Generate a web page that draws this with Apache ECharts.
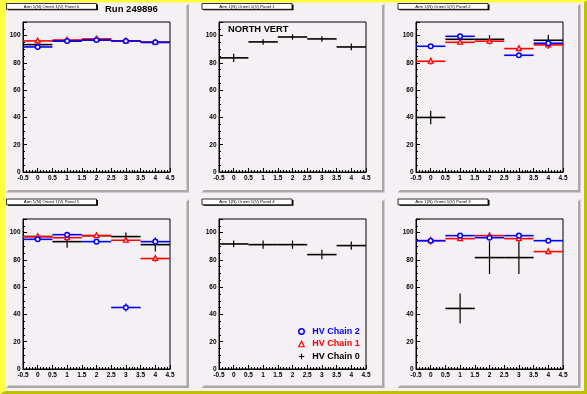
<!DOCTYPE html>
<html><head><meta charset="utf-8">
<script src="https://cdn.jsdelivr.net/npm/echarts@6/dist/echarts.min.js"></script>
<style>html,body{margin:0;padding:0;background:#f4f0f4}#c{width:587px;height:394px}</style>
</head><body><div id="c"></div><script>
// ---------- data ----------
const bins = [0, 1, 2, 3, 4];
const chainNames = ['HV Chain 0', 'HV Chain 1', 'HV Chain 2'];
const panelTitles = [
  'Arm 1(N) Orient 1(V) Panel 0', 'Arm 1(N) Orient 1(V) Panel 1', 'Arm 1(N) Orient 1(V) Panel 2',
  'Arm 1(N) Orient 1(V) Panel 5', 'Arm 1(N) Orient 1(V) Panel 4', 'Arm 1(N) Orient 1(V) Panel 3'
];
const runLabel = 'Run 249896';
const armLabel = 'NORTH VERT';
const yTickLabels = [0, 20, 40, 60, 80, 100];
const xTickLabels = [-0.5, 0, 0.5, 1, 1.5, 2, 2.5, 3, 3.5, 4, 4.5];

// pad 0 (Panel 0)
const p0_chain0 = [93.4, 96.1, 96.8, 96.1, 95.1];
const p0_chain0_err = [1.5, 1, 1, 1, 1];
const p0_chain1 = [96.1, 96.8, 97.6, 96.1, 95.1];
const p0_chain1_err = [1.5, 1, 1.5, 1, 1];
const p0_chain2 = [91.7, 96.1, 96.8, 96.1, 95.1];
const p0_chain2_err = [2, 1, 1, 1, 1];
// pad 1 (Panel 1)
const p1_chain0 = [83.7, 95.4, 99.0, 97.6, 91.7];
const p1_chain0_err = [3, 2, 2, 2, 2.5];
// pad 2 (Panel 2)
const p2_chain0 = [40.0, 97.3, 97.3, null, 96.6];
const p2_chain0_err = [5, 1, 3, 0, 4];
const p2_chain1 = [81.2, 95.1, 95.9, 90.5, 93.2];
const p2_chain1_err = [2.5, 1.5, 2.5, 2, 3];
const p2_chain2 = [92.2, 99.5, null, 85.6, 94.4];
const p2_chain2_err = [1, 1, 0, 1.5, 1.5];
// pad 3 (Panel 5)
const p3_chain0 = [97.1, 93.4, 97.8, 97.1, 91.2];
const p3_chain0_err = [1, 4.5, 1, 3, 5];
const p3_chain1 = [97.1, 96.3, 97.8, 94.4, 81.0];
const p3_chain1_err = [1.5, 1, 1.5, 2, 2.5];
const p3_chain2 = [95.1, 98.5, 93.4, 45.1, 93.4];
const p3_chain2_err = [1.5, 1.5, 1.5, 3, 3];
// pad 4 (Panel 4)
const p4_chain0 = [91.7, 91.2, 91.2, 83.9, 90.5];
const p4_chain0_err = [2.5, 3, 3, 3.5, 3];
// pad 5 (Panel 3)
const p5_chain0 = [null, 44.4, 81.7, 81.7, null];
const p5_chain0_err = [0, 11, 12, 12, 0];
const p5_chain1 = [94.1, 95.6, 97.8, 95.6, 86.1];
const p5_chain1_err = [3, 1.5, 2, 1.5, 2];
const p5_chain2 = [94.1, 97.8, 96.3, 97.8, 94.1];
const p5_chain2_err = [1, 1, 1, 1, 1];

const padSeries = [
  [[p0_chain0, p0_chain0_err], [p0_chain1, p0_chain1_err], [p0_chain2, p0_chain2_err]],
  [[p1_chain0, p1_chain0_err], null, null],
  [[p2_chain0, p2_chain0_err], [p2_chain1, p2_chain1_err], [p2_chain2, p2_chain2_err]],
  [[p3_chain0, p3_chain0_err], [p3_chain1, p3_chain1_err], [p3_chain2, p3_chain2_err]],
  [[p4_chain0, p4_chain0_err], null, null],
  [[p5_chain0, p5_chain0_err], [p5_chain1, p5_chain1_err], [p5_chain2, p5_chain2_err]]
];

// ---------- layout / style ----------
const BG = '#f4f0f4';
const chainColors = ['#000000', '#ff0000', '#0000ff'];
const padX = [6, 201.5, 397.5], padW = 183;
const padY = [3.5, 199], padH = 189;
const frameX = [23, 219, 416], frameW = 147;
const frameY = [22, 219], frameH = 150;
const FONT = '"Liberation Sans", Arial, Helvetica, sans-serif';

const grids = [], xAxes = [], yAxes = [], series = [], graphics = [];

// canvas background + bevel
graphics.push({type:'rect', shape:{x:0,y:0,width:587,height:394}, style:{fill:BG}, z:-20});
graphics.push({type:'polygon', shape:{points:[[0,0],[587,0],[584,2.5],[5,2.5],[5,391],[0,394]]}, style:{fill:'#ffff40'}, z:-19});
graphics.push({type:'polygon', shape:{points:[[587,0],[587,394],[0,394],[5,391],[584,391],[584,2.5]]}, style:{fill:'#c0c000'}, z:-19});

function renderFactory(chain) {
  const color = chainColors[chain];
  return function (params, api) {
    const x = api.value(0), y = api.value(1), e = api.value(2);
    const l = api.coord([x - 0.5, y]), r = api.coord([x + 0.5, y]);
    const t = api.coord([x, y + e]), b = api.coord([x, y - e]);
    const c = api.coord([x, y]);
    const children = [
      {type:'line', shape:{x1:l[0], y1:l[1], x2:r[0], y2:r[1]}, style:{stroke:color, lineWidth:1.6}},
      {type:'line', shape:{x1:t[0], y1:t[1], x2:b[0], y2:b[1]}, style:{stroke:color, lineWidth:1.2}}
    ];
    if (chain === 2) {
      children.push({type:'circle', shape:{cx:c[0], cy:c[1], r:2.3}, style:{fill:BG, stroke:color, lineWidth:1.5}});
    } else if (chain === 1) {
      children.push({type:'polygon', shape:{points:[[c[0], c[1]-2.8],[c[0]-2.4, c[1]+1.9],[c[0]+2.4, c[1]+1.9]]}, style:{fill:BG, stroke:color, lineWidth:1.3}});
    }
    return {type:'group', children};
  };
}

for (let p = 0; p < 6; p++) {
  const col = p % 3, row = Math.floor(p / 3);
  const px = padX[col], py = padY[row];
  // pad shadow (right & bottom)
  graphics.push({type:'polygon', shape:{points:[[px+padW,py],[px+padW,py+padH],[px,py+padH],[px+2.5,py+padH-2.5],[px+padW-2.5,py+padH-2.5],[px+padW-2.5,py+2.5]]}, style:{fill:'#a8a8a8'}, z:-15});
  // title box
  graphics.push({type:'rect', shape:{x:px+2, y:py+1, width:90, height:5.8}, style:{fill:'#000'}, z:50});
  graphics.push({type:'rect', shape:{x:px+0.5, y:py, width:90, height:5.8}, style:{fill:'#ffffff', stroke:'#000', lineWidth:0.8}, z:51});
  graphics.push({type:'text', x:px+45.5, y:py+3, style:{text:panelTitles[p], font:'4.3px ' + FONT, fill:'#000', align:'center', verticalAlign:'middle'}, z:52});

  grids.push({left:frameX[col], top:frameY[row], width:frameW, height:frameH, show:true, borderColor:'#000', borderWidth:1, backgroundColor:'rgba(0,0,0,0)'});
  xAxes.push({
    gridIndex:p, type:'value', min:xTickLabels[0], max:xTickLabels[xTickLabels.length-1], interval:0.5,
    axisLine:{show:true, onZero:false, lineStyle:{color:'#000', width:1}},
    axisTick:{show:true, inside:true, length:4, lineStyle:{color:'#000', width:1}},
    minorTick:{show:true, splitNumber:5, length:2, lineStyle:{color:'#000', width:1}},
    splitLine:{show:false},
    axisLabel:{fontSize:6.5, fontWeight:'bold', color:'#000', margin:3, fontFamily:FONT}
  });
  yAxes.push({
    gridIndex:p, type:'value', min:yTickLabels[0], max:110, interval:20,
    axisLine:{show:true, onZero:false, lineStyle:{color:'#000', width:1}},
    axisTick:{show:true, inside:true, length:4, lineStyle:{color:'#000', width:1}},
    minorTick:{show:true, splitNumber:4, length:2, lineStyle:{color:'#000', width:1}},
    splitLine:{show:false},
    axisLabel:{fontSize:6.5, fontWeight:'bold', color:'#000', margin:2.5, fontFamily:FONT, showMaxLabel:false}
  });

  for (let c = 0; c < 3; c++) {
    const s = padSeries[p][c];
    if (!s) continue;
    const data = [];
    bins.forEach((b, i) => { if (s[0][i] != null) data.push([b, s[0][i], s[1][i]]); });
    series.push({
      type:'custom', name:chainNames[c], xAxisIndex:p, yAxisIndex:p,
      renderItem:renderFactory(c), data, encode:{x:0, y:1}, z:2 + c, silent:true,
      itemStyle:{color:chainColors[c]}
    });
  }
}

graphics.push({type:'text', x:105, y:4.5, style:{text:runLabel, font:'bold 9.5px ' + FONT, fill:'#000', verticalAlign:'top'}, z:60});
graphics.push({type:'text', x:228, y:24.5, style:{text:armLabel, font:'bold 9.3px ' + FONT, fill:'#000', verticalAlign:'top'}, z:60});

const chart = echarts.init(document.getElementById('c'), null, {renderer:'canvas'});
chart.setOption({
  animation:false,
  backgroundColor:BG,
  grid:grids, xAxis:xAxes, yAxis:yAxes, series,
  graphic:{elements:graphics},
  legend:{
    orient:'vertical', left:298, top:327, itemWidth:5.5, itemHeight:5.5, itemGap:3.5, padding:0,
    selectedMode:false,
    textStyle:{fontSize:9, fontWeight:'bold', fontFamily:FONT, padding:[0,0,0,3]},
    data:[
      {name:'HV Chain 2', icon:'circle', itemStyle:{color:BG, borderColor:'#0000ff', borderWidth:1.5}, textStyle:{color:'#0000ff'}},
      {name:'HV Chain 1', icon:'triangle', itemStyle:{color:BG, borderColor:'#ff0000', borderWidth:1.2}, textStyle:{color:'#ff0000'}},
      {name:'HV Chain 0', icon:'path://M0,5L10,5M5,0L5,10', itemStyle:{color:'rgba(0,0,0,0)', borderColor:'#000', borderWidth:1.2}, textStyle:{color:'#000'}}
    ]
  }
});
</script></body></html>
